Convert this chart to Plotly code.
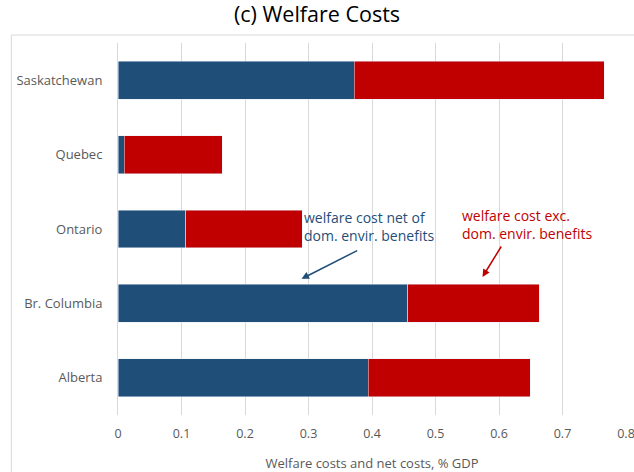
"""Stacked horizontal bars: welfare costs by province"""
import plotly.graph_objects as go

provinces = ['Alberta', 'Br. Columbia', 'Ontario', 'Quebec', 'Saskatchewan']
net_cost = [0.394, 0.456, 0.107, 0.010, 0.372]      # welfare cost net of dom. envir. benefits
total_cost = [0.649, 0.663, 0.290, 0.164, 0.766]    # welfare cost exc. dom. envir. benefits
extra = [t - n for t, n in zip(total_cost, net_cost)]
x_ticks = [0, 0.1, 0.2, 0.3, 0.4, 0.5, 0.6, 0.7, 0.8]

blue = '#1F4E79'
red = '#C00000'

data = [
    go.Bar(y=provinces, x=net_cost, orientation='h', marker=dict(color=blue),
           width=0.51, name='net'),
    go.Bar(y=provinces, x=extra, orientation='h', marker=dict(color=red),
           width=0.51, name='exc.'),
]

layout = go.Layout(
    barmode='stack',
    width=634, height=472,
    margin=dict(l=118, r=8, t=43, b=57),
    paper_bgcolor='white', plot_bgcolor='white',
    showlegend=False,
    font=dict(family='Open Sans, Noto Sans, sans-serif', color='#595959', size=12),
    title=dict(text='(c) Welfare Costs', x=0.5, xanchor='center', y=0.985, yanchor='top',
               font=dict(size=21.5, color='black')),
    xaxis=dict(range=[0, 0.8], tickvals=x_ticks, ticktext=[str(v) for v in x_ticks],
               showgrid=True, gridcolor='#D9D9D9', gridwidth=1, zeroline=False,
               showline=False, ticks='', ticklen=0, automargin=False,
               ticklabelstandoff=9, ticklabeloverflow='allow', tickfont=dict(size=12.5),
               title=dict(text='Welfare costs and net costs, % GDP', standoff=22,
                          font=dict(size=13, color='#595959'))),
    yaxis=dict(showgrid=False, showline=True, linecolor='#D9D9D9', linewidth=1,
               ticks='', ticklabelstandoff=12, range=[-0.5, 4.5], automargin=False,
               tickfont=dict(size=13)),
    # chart-area border, cropped: only top and left edges show
    shapes=[dict(type='line', xref='paper', yref='paper', x0=-0.21, x1=1.1, y0=1.0215, y1=1.0215,
                 line=dict(color='#D9D9D9', width=1)),
            dict(type='line', xref='paper', yref='paper', x0=-0.21, x1=-0.21, y0=-0.2, y1=1.0215,
                 line=dict(color='#D9D9D9', width=1))],
    annotations=[
        dict(x=0.289, y=2.03, xref='x', yref='y', text='welfare cost net of<br>dom. envir. benefits',
             showarrow=False, xanchor='left', align='left', font=dict(color=blue, size=14)),
        dict(x=0.539, y=2.06, xref='x', yref='y', text='welfare cost exc.<br>dom. envir. benefits',
             showarrow=False, xanchor='left', align='left', font=dict(color=red, size=14)),
        dict(x=0.289, y=1.33, xref='x', yref='y', ax=0.379, ay=1.72, axref='x', ayref='y',
             text='', showarrow=True, arrowhead=2, arrowsize=1, arrowwidth=1.5, arrowcolor=blue),
        dict(x=0.574, y=1.356, xref='x', yref='y', ax=0.605, ay=1.785, axref='x', ayref='y',
             text='', showarrow=True, arrowhead=2, arrowsize=1, arrowwidth=1.5, arrowcolor=red),
    ],
)

fig = go.Figure(data=data, layout=layout)
# drop the default 8px page margin so the 634x472 figure fills the window exactly
fig.write_html('out.html', config={'displayModeBar': False},
               post_script="document.body.style.margin='0';")
